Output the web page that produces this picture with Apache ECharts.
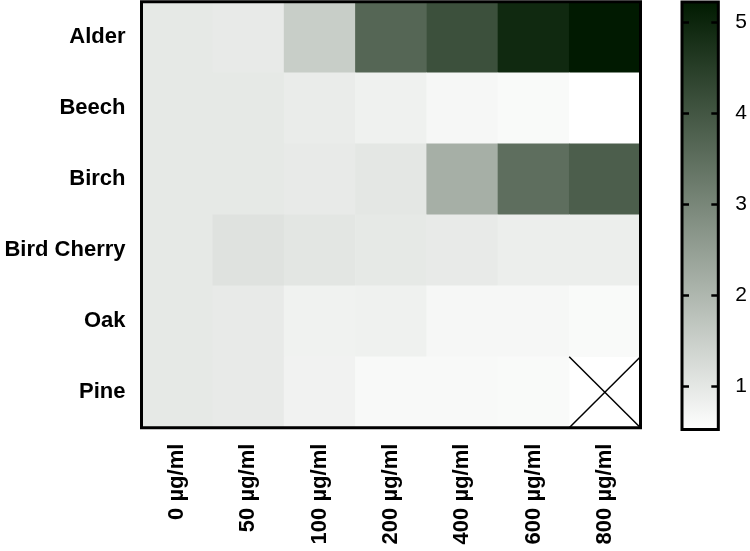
<!DOCTYPE html>
<html>
<head>
<meta charset="utf-8">
<script src="https://cdn.jsdelivr.net/npm/echarts@6/dist/echarts.min.js"></script>
<style>
html,body{margin:0;padding:0;background:#fff;}
#chart{width:750px;height:551px;}
</style>
</head>
<body>
<div id="chart"></div>
<script>
const concentrations = ['0 µg/ml','50 µg/ml','100 µg/ml','200 µg/ml','400 µg/ml','600 µg/ml','800 µg/ml'];
const species = ['Alder','Beech','Birch','Bird Cherry','Oak','Pine'];
const alder      = [0.99, 0.95, 1.54, 3.66, 4.11, 4.92, 5.21];
const beech      = [0.99, 0.99, 0.91, 0.82, 0.69, 0.64, 0.53];
const birch      = [0.99, 0.99, 0.95, 1.03, 2.16, 3.49, 3.83];
const birdCherry = [0.99, 1.12, 1.05, 0.99, 0.95, 0.88, 0.88];
const oak        = [0.99, 0.95, 0.80, 0.82, 0.69, 0.69, 0.64];
const pine       = [0.99, 0.95, 0.79, 0.66, 0.66, 0.64, null];
const colorTicks = [1, 2, 3, 4, 5];
const scaleMin = 0.53, scaleMax = 5.22;

const rows = [alder, beech, birch, birdCherry, oak, pine];
const heatData = [];
const missing = [];
rows.forEach((row, yi) => row.forEach((v, xi) => {
  if (v === null) missing.push([xi, yi]); else heatData.push([xi, yi, v]);
}));

const font = 'Liberation Sans, Arial, sans-serif';
const chart = echarts.init(document.getElementById('chart'));
chart.setOption({
  animation: false,
  backgroundColor: '#fff',
  grid: [
    {left: 141.5, top: 1.7, width: 499, height: 426, show: true, borderColor: '#000', borderWidth: 3, backgroundColor: 'transparent', z: 5},
    {left: 682, top: 2, width: 40, height: 427.5, show: true, borderColor: '#000', borderWidth: 3,
     backgroundColor: {type: 'linear', x: 0, y: 0, x2: 0, y2: 1, colorStops: [{offset: 0, color: '#001a00'}, {offset: 1, color: '#ffffff'}]}}
  ],
  xAxis: [
    {type: 'category', gridIndex: 0, data: concentrations, axisLine: {show: false}, axisTick: {show: false},
     splitLine: {show: false},
     axisLabel: {rotate: 90, margin: 16, color: '#000', fontWeight: 'bold', fontSize: 22, fontFamily: font, interval: 0}},
    {type: 'category', gridIndex: 1, data: [''], show: false}
  ],
  yAxis: [
    {type: 'category', gridIndex: 0, data: species, inverse: true, axisLine: {show: false}, axisTick: {show: false},
     splitLine: {show: false},
     axisLabel: {margin: 16, color: '#000', fontWeight: 'bold', fontSize: 22, fontFamily: font}},
    {type: 'value', gridIndex: 1, position: 'right', min: scaleMin, max: scaleMax,
     axisLine: {show: false}, splitLine: {show: false},
     axisTick: {show: true, inside: true, length: 7, lineStyle: {color: '#000', width: 2.5}, customValues: colorTicks},
     axisLabel: {margin: 17, color: '#000', fontSize: 21, fontFamily: font, customValues: colorTicks}},
    {type: 'value', gridIndex: 1, position: 'left', min: scaleMin, max: scaleMax,
     axisLine: {show: false}, splitLine: {show: false},
     axisTick: {show: true, inside: true, length: 7, lineStyle: {color: '#000', width: 2.5}, customValues: colorTicks},
     axisLabel: {show: false}}
  ],
  visualMap: {
    show: false, type: 'continuous', min: scaleMin, max: scaleMax, dimension: 2, seriesIndex: 0,
    inRange: {color: ['#ffffff', '#001a00']}
  },
  series: [
    {type: 'heatmap', xAxisIndex: 0, yAxisIndex: 0, data: heatData, itemStyle: {borderWidth: 0}, z: 1},
    {type: 'custom', xAxisIndex: 0, yAxisIndex: 0, data: missing, z: 3,
     renderItem: function (params, api) {
       const c = api.coord([api.value(0), api.value(1)]);
       const s = api.size([1, 1]);
       const x0 = c[0] - s[0] / 2, x1 = c[0] + s[0] / 2;
       const y0 = c[1] - s[1] / 2, y1 = c[1] + s[1] / 2;
       return {type: 'group', children: [
         {type: 'line', shape: {x1: x0, y1: y0, x2: x1, y2: y1}, style: {stroke: '#000', lineWidth: 1.5}},
         {type: 'line', shape: {x1: x0, y1: y1, x2: x1, y2: y0}, style: {stroke: '#000', lineWidth: 1.5}}
       ]};
     }}
  ]
});
</script>
</body>
</html>
